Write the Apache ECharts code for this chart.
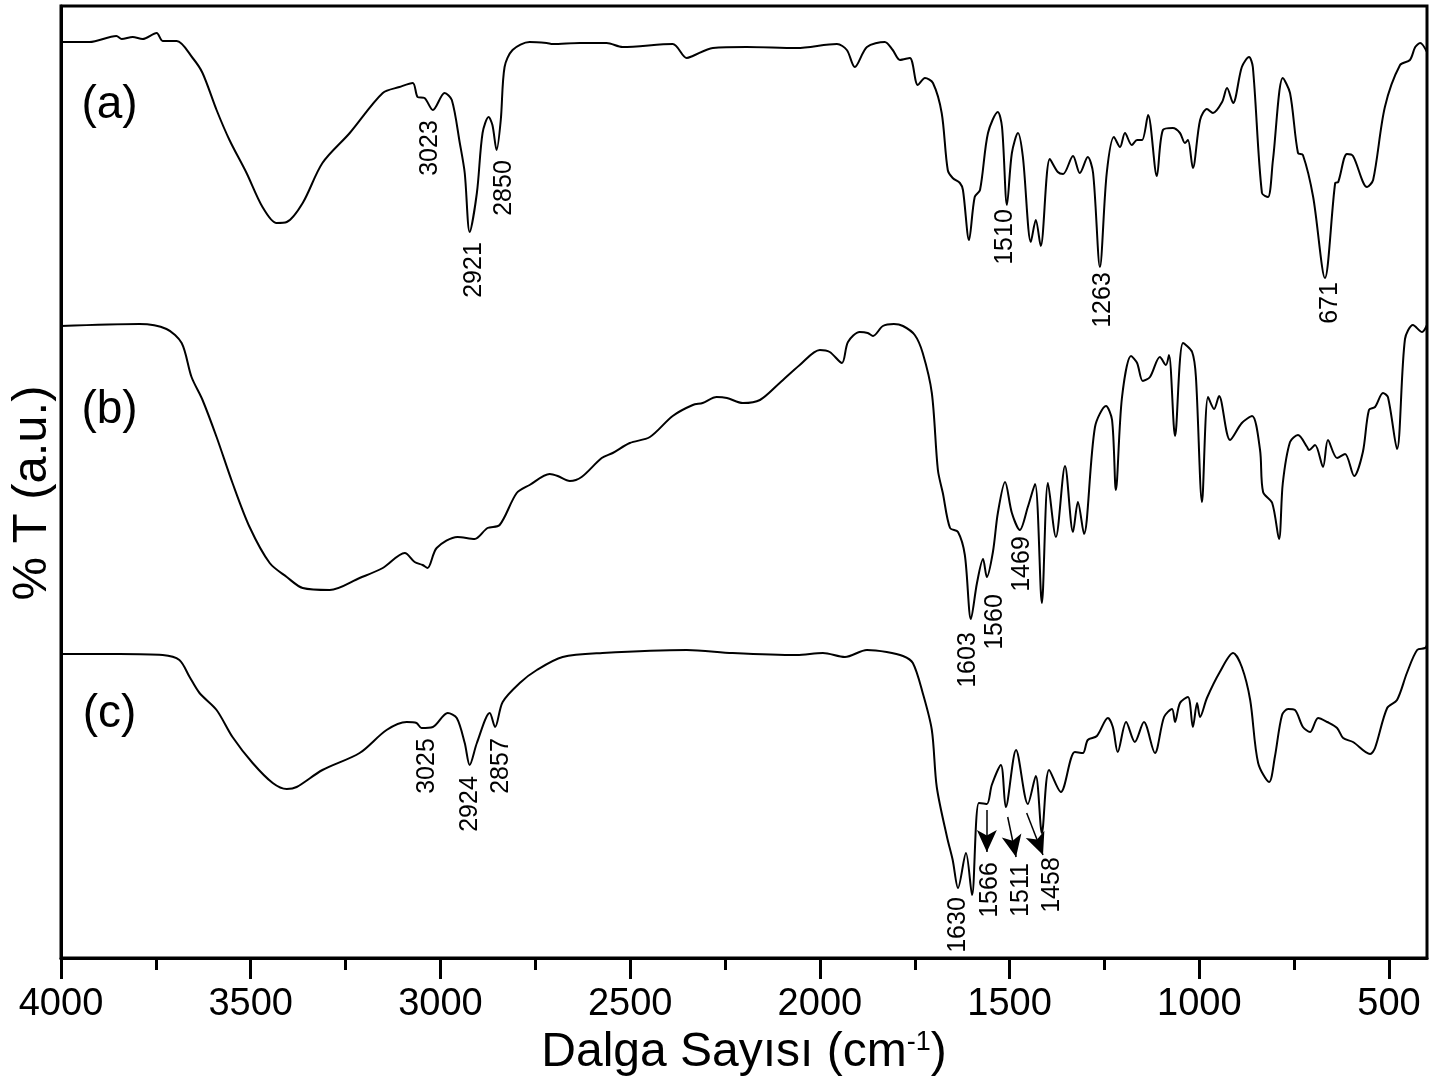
<!DOCTYPE html>
<html><head><meta charset="utf-8">
<script src="https://cdn.jsdelivr.net/npm/echarts@6/dist/echarts.min.js"></script>
<style>html,body{margin:0;padding:0;background:#fff}#c{width:1430px;height:1089px}</style>
</head><body><div id="c"></div>
<script>
// [wavenumber (cm-1), %T (arbitrary offset units)]
const spectrumA = [[4000,916],[3925,916],[3854,922],[3840,919],[3811,921],[3785,919],[3748,925],[3732,917],[3695,917],[3653,900],[3627,885],[3590,848],[3556,818],[3511,785],[3469,751],[3432,735],[3405,736],[3363,755],[3311,795],[3239,825],[3152,865],[3108,871],[3073,875],[3060,861],[3042,860],[3020,848],[2989,865],[2970,858],[2949,815],[2936,785],[2923,726],[2904,765],[2889,825],[2873,841],[2863,833],[2852,808],[2841,838],[2831,891],[2810,908],[2765,916],[2720,915],[2704,914],[2633,915],[2562,915],[2520,911],[2388,914],[2351,900],[2335,902],[2282,910],[2193,911],[2061,910],[1955,914],[1929,908],[1908,891],[1876,911],[1829,916],[1808,908],[1789,898],[1763,900],[1742,873],[1723,880],[1702,875],[1679,845],[1663,788],[1650,780],[1631,775],[1623,768],[1607,718],[1592,761],[1578,768],[1557,825],[1531,846],[1520,831],[1507,753],[1494,805],[1478,825],[1465,801],[1444,716],[1431,738],[1418,712],[1394,799],[1373,786],[1359,784],[1333,802],[1315,785],[1294,801],[1280,785],[1262,691],[1244,785],[1225,821],[1209,811],[1196,825],[1178,813],[1164,818],[1151,818],[1135,843],[1112,782],[1096,828],[1070,830],[1051,825],[1038,815],[1030,818],[1017,790],[998,838],[980,849],[964,845],[940,856],[927,870],[911,855],[888,891],[869,901],[859,891],[835,765],[819,761],[806,798],[780,880],[761,865],[740,805],[727,803],[700,761],[669,680],[642,775],[634,776],[611,804],[595,802],[558,771],[542,778],[511,851],[471,893],[445,898],[431,911],[418,915],[400,906]];
const spectrumB = [[4000,632],[3793,634],[3722,629],[3682,615],[3656,581],[3627,558],[3590,521],[3548,475],[3503,431],[3450,395],[3405,381],[3363,370],[3292,368],[3213,380],[3152,390],[3094,405],[3068,396],[3047,393],[3034,390],[3010,410],[2955,421],[2910,419],[2876,430],[2844,433],[2799,465],[2765,473],[2712,484],[2691,482],[2659,477],[2628,481],[2575,500],[2546,505],[2501,515],[2448,521],[2388,542],[2335,553],[2309,555],[2272,561],[2245,560],[2203,555],[2158,558],[2106,575],[2053,593],[2000,608],[1974,606],[1942,595],[1926,616],[1895,626],[1874,625],[1860,622],[1834,632],[1805,634],[1781,632],[1750,623],[1729,605],[1705,565],[1689,488],[1676,465],[1657,430],[1636,426],[1618,403],[1602,339],[1586,375],[1570,399],[1560,381],[1544,406],[1531,445],[1512,476],[1494,445],[1473,428],[1452,451],[1433,474],[1415,355],[1399,475],[1378,421],[1354,492],[1333,426],[1320,456],[1304,424],[1275,531],[1246,552],[1230,538],[1220,468],[1204,560],[1180,602],[1164,595],[1149,577],[1130,581],[1104,601],[1088,593],[1080,603],[1064,522],[1043,615],[1019,606],[1009,581],[993,456],[977,561],[961,549],[948,562],[919,518],[888,535],[861,542],[840,508],[832,466],[808,455],[790,419],[780,475],[761,516],[740,523],[716,511],[711,508],[695,513],[674,491],[661,518],[637,500],[616,504],[592,482],[569,506],[553,548],[537,551],[516,565],[503,561],[479,509],[458,619],[437,633],[413,626],[400,633]];
const spectrumC = [[4000,304],[3846,304],[3732,303],[3688,298],[3661,281],[3635,265],[3590,248],[3548,221],[3495,195],[3442,175],[3405,169],[3379,171],[3311,188],[3213,205],[3142,228],[3089,236],[3063,235],[3050,230],[3020,231],[2981,245],[2957,240],[2936,215],[2923,193],[2904,215],[2870,245],[2856,231],[2836,256],[2791,275],[2746,288],[2678,301],[2573,305],[2351,308],[2230,305],[2061,303],[1992,305],[1934,301],[1876,308],[1824,306],[1781,302],[1755,295],[1729,265],[1705,228],[1692,171],[1665,121],[1650,98],[1636,70],[1615,105],[1599,63],[1581,155],[1560,154],[1547,173],[1523,193],[1510,151],[1483,208],[1452,154],[1431,182],[1415,125],[1396,188],[1365,166],[1328,206],[1307,205],[1294,218],[1270,222],[1241,240],[1228,231],[1215,206],[1193,236],[1170,216],[1146,236],[1117,205],[1093,241],[1072,249],[1064,236],[1051,255],[1030,261],[1017,231],[1006,255],[998,241],[980,260],[946,286],[911,305],[888,291],[866,258],[845,195],[816,176],[801,201],[782,243],[766,249],[748,248],[727,231],[708,226],[687,240],[663,236],[637,230],[621,220],[595,216],[550,204],[537,210],[505,250],[479,258],[453,285],[426,308],[405,310],[400,313]];

const curveLabels = [['(a)',3872,853],['(b)',3872,548],['(c)',3872,244]];
const peakLabels = [
  ['3023',3028,810],['2921',2910,688],['2850',2831,770],['1510',1512,721],['1263',1254,658],['671',656,655],
  ['1603',1610,298],['1560',1539,336],['1469',1468,394],
  ['3025',3034,192],['2924',2923,154],['2857',2839,192],['1630',1636,33],['1566',1552,68],['1511',1470,68],['1458',1388,73]
];
const arrowLines = [[[1560,148],[1560,106]],[[1505,141],[1483,101]],[[1455,145],[1412,103]]];
const majorTicks = [4000,3500,3000,2500,2000,1500,1000,500];
const minorTicks = [3750,3250,2750,2250,1750,1250,750];

const FF = 'Liberation Sans, Arial, sans-serif';
const chart = echarts.init(document.getElementById('c'), null, {renderer:'canvas'});
const lineSeries = (d) => ({type:'line', data:d, xAxisIndex:0, showSymbol:false, smooth:0.3, silent:true,
  lineStyle:{color:'#000', width:2}});
const sc = lineSeries(spectrumC);
sc.markLine = {silent:true, symbol:['none','arrow'], symbolSize:[15,22], label:{show:false},
  lineStyle:{color:'#000', width:1.5, type:'solid'},
  data: arrowLines.map(a => [{coord:a[0]}, {coord:a[1]}])};
const textScatter = (items, size, rot) => ({type:'scatter', xAxisIndex:0, symbolSize:0, silent:true,
  itemStyle:{opacity:1},
  data: items.map(d => ({name:d[0], value:[d[1], d[2]]})),
  label:{show:true, position:'inside', formatter:'{b}', rotate:rot, fontSize:size, color:'#000', opacity:1, fontFamily:FF}});
chart.setOption({
  animation:false,
  grid:{left:61, right:3, top:6, bottom:131, show:true, borderColor:'#000', borderWidth:3, backgroundColor:'transparent'},
  xAxis:[
    {type:'value', min:400, max:4000, inverse:true, position:'bottom',
     axisLine:{show:true, onZero:false, lineStyle:{color:'#000', width:3}},
     axisTick:{show:true, inside:false, length:21, customValues:majorTicks, lineStyle:{color:'#000', width:3}},
     axisLabel:{customValues:majorTicks, formatter:(v) => String(v), fontSize:38, color:'#000', fontFamily:FF, margin:28},
     splitLine:{show:false},
     name:'Dalga Sayısı (cm{sup|-1})', nameLocation:'middle', nameGap:68,
     nameTextStyle:{fontSize:48, color:'#000', fontFamily:FF,
       rich:{sup:{fontSize:27, color:'#000', fontFamily:FF, verticalAlign:'top'}}}},
    {type:'value', min:400, max:4000, inverse:true, position:'bottom',
     axisLine:{show:false, onZero:false},
     axisTick:{show:true, inside:false, length:12, customValues:minorTicks, lineStyle:{color:'#000', width:3}},
     axisLabel:{show:false}, splitLine:{show:false}}
  ],
  yAxis:{type:'value', min:0, max:952,
    axisLine:{show:true, onZero:false, lineStyle:{color:'#000', width:3}},
    axisTick:{show:false}, axisLabel:{show:false}, splitLine:{show:false},
    name:'% T (a.u.)', nameLocation:'middle', nameRotate:90, nameGap:4,
    nameTextStyle:{fontSize:49, color:'#000', fontFamily:FF, padding:[0,22,0,0]}},
  series:[
    lineSeries(spectrumA), lineSeries(spectrumB), sc,
    textScatter(curveLabels, 46, 0),
    textScatter(peakLabels, 25, 90)
  ]
});
</script></body></html>
